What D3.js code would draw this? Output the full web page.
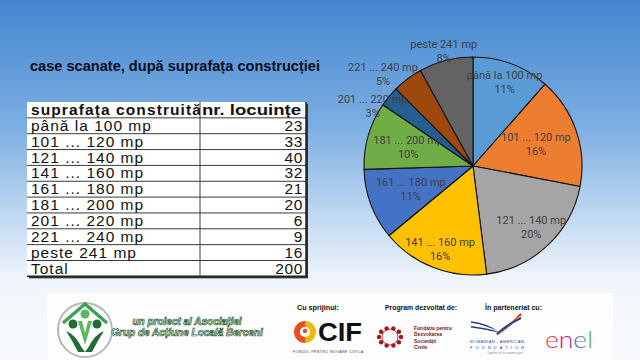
<!DOCTYPE html>
<html><head><meta charset="utf-8">
<script src="https://cdn.jsdelivr.net/npm/d3@7"></script>
<style>body{margin:0;overflow:hidden;background:#fff} svg{display:block}</style>
</head><body><svg id="c" width="640" height="360"></svg>
<script>
// ---------- data ----------
const title = "case scanate, după suprafața construcției";
const headers = ["suprafața construită", "nr. locuințe"];
const categories = ["până la 100 mp","101 ... 120 mp","121 ... 140 mp","141 ... 160 mp","161 ... 180 mp","181 ... 200 mp","201 ... 220 mp","221 ... 240 mp","peste 241 mp"];
const values = [23,33,40,32,21,20,6,9,16];
const percentLabels = ["11%","16%","20%","16%","11%","10%","3%","5%","8%"];
const totalLabel = "Total";
const totalValue = 200;
const colors = ["#5B9BD5","#ED7D31","#A5A5A5","#FFC000","#4472C4","#70AD47","#255E91","#9E480E","#636363"];

// ---------- layout ----------
const W = 640, H = 360;
const svg = d3.select("#c");
const defs = svg.append("defs");
const bg = defs.append("linearGradient").attr("id","bg").attr("x1",0).attr("y1",0).attr("x2",0).attr("y2",1);
bg.append("stop").attr("offset","0").attr("stop-color","#4386D0");
bg.append("stop").attr("offset","0.35").attr("stop-color","#7DAEE2");
bg.append("stop").attr("offset","0.78").attr("stop-color","#F1F6FC");
bg.append("stop").attr("offset","1").attr("stop-color","#F8FAFD");
svg.append("rect").attr("width",W).attr("height",H).attr("fill","url(#bg)");

// title
svg.append("text").attr("x",30).attr("y",71).text(title)
  .attr("font-family","Liberation Sans, Arial, sans-serif").attr("font-weight","bold")
  .attr("font-size",15.5).attr("fill","#0d0d1a")
  .attr("textLength",290).attr("lengthAdjust","spacingAndGlyphs");

// ---------- table ----------
const tx0 = 27, tx1 = 306, tcol = 200, ty0 = 102, rowH = 15.85;
const rows = categories.map((c,i)=>[c, values[i]]).concat([[totalLabel, totalValue]]);
const nRows = rows.length + 1;
const tb = svg.append("g");
tb.append("rect").attr("x",tx0+2).attr("y",ty0+2).attr("width",tx1-tx0).attr("height",nRows*rowH).attr("fill","#333");
tb.append("rect").attr("x",tx0).attr("y",ty0).attr("width",tx1-tx0).attr("height",nRows*rowH).attr("fill","#fff");
defs.append("clipPath").attr("id","col1").append("rect").attr("x",tx0).attr("y",ty0).attr("width",tcol-tx0).attr("height",rowH);
for (let i=1;i<nRows;i++){
  tb.append("line").attr("x1",tx0).attr("x2",tx1).attr("y1",ty0+i*rowH).attr("y2",ty0+i*rowH)
    .attr("stroke","#3a3a3a").attr("stroke-width",1);
}
tb.append("line").attr("x1",tcol).attr("x2",tcol).attr("y1",ty0).attr("y2",ty0+nRows*rowH).attr("stroke","#3a3a3a");
tb.append("line").attr("x1",tx1).attr("x2",tx1).attr("y1",ty0).attr("y2",ty0+nRows*rowH).attr("stroke","#222").attr("stroke-width",1.5);
tb.append("line").attr("x1",tx0).attr("x2",tx1).attr("y1",ty0+nRows*rowH).attr("y2",ty0+nRows*rowH).attr("stroke","#222").attr("stroke-width",1.5);
const tf = "Liberation Sans, Arial, sans-serif";
tb.append("text").attr("x",31).attr("y",ty0+13).text(headers[0]).attr("clip-path","url(#col1)")
  .attr("font-family",tf).attr("font-weight","bold").attr("font-size",15.5).attr("letter-spacing",1.1).attr("fill","#111");
tb.append("text").attr("x",202).attr("y",ty0+13).text(headers[1])
  .attr("font-family",tf).attr("font-weight","bold").attr("font-size",15.5).attr("fill","#111")
  .attr("textLength",99).attr("lengthAdjust","spacingAndGlyphs");
rows.forEach((r,i)=>{
  const y = ty0 + (i+1)*rowH + 13;
  tb.append("text").attr("x",31).attr("y",y).text(r[0]).attr("font-family",tf).attr("font-size",15.5)
    .attr("letter-spacing",1).attr("fill","#111");
  tb.append("text").attr("x",303).attr("y",y).text(r[1]).attr("text-anchor","end").attr("font-family",tf)
    .attr("font-size",15.5).attr("letter-spacing",0.6).attr("fill","#111");
});

// ---------- pie ----------
const cx = 473, cy = 166, R = 109;
const labelRadius = [0.82,0.61,0.78,0.82,0.61,0.62,1.07,1.18,1.08];
const labelAngleShift = [0,0,0,0,0,0,-9,-7.5,0];
const pie = d3.pie().sort(null).value(d=>d)(values);
const arc = d3.arc().innerRadius(0).outerRadius(R);
const color = d3.scaleOrdinal().domain(categories).range(colors);
const pg = svg.append("g").attr("transform",`translate(${cx},${cy})`);
pg.selectAll("path").data(pie).join("path").attr("d",arc)
  .attr("fill",(d,i)=>color(categories[i])).attr("stroke","#111").attr("stroke-width",1.1).attr("stroke-linejoin","round");
const lg = pg.selectAll("g.lbl").data(pie).join("g").attr("class","lbl")
  .attr("transform",(d,i)=>{
    const a = (d.startAngle+d.endAngle)/2 + labelAngleShift[i]*Math.PI/180;
    const r = R*labelRadius[i];
    return `translate(${r*Math.sin(a)},${-r*Math.cos(a)})`;
  });
lg.append("text").attr("y",-7).attr("dominant-baseline","central").attr("text-anchor","middle")
  .text((d,i)=>categories[i]).attr("font-family","Roboto, sans-serif").attr("font-size",11).attr("fill","#404040");
lg.append("text").attr("y",7).attr("dominant-baseline","central").attr("text-anchor","middle")
  .text((d,i)=>percentLabels[i]).attr("font-family","Roboto, sans-serif").attr("font-size",11).attr("fill","#404040");

// ---------- footer ----------
const ft = svg.append("g");
ft.append("rect").attr("x",47).attr("y",293).attr("width",566).attr("height",67).attr("fill","#fdfdfd");
// association logo
ft.append("circle").attr("cx",85).attr("cy",330).attr("r",27).attr("fill","#fff").attr("stroke","#b8b8b8").attr("stroke-width",2);
ft.append("path").attr("d","M63,323 L85,304 L107,323").attr("fill","none").attr("stroke","#3aa35a").attr("stroke-width",3.5);
ft.append("circle").attr("cx",73).attr("cy",324).attr("r",4.5).attr("fill","#1f6e35");
ft.append("circle").attr("cx",97).attr("cy",324).attr("r",4.5).attr("fill","#1f6e35");
ft.append("circle").attr("cx",85).attr("cy",314).attr("r",4.5).attr("fill","#5cb85c");
ft.append("path").attr("d","M66,331 Q75,334 82,348 L85,352 L78,352 Q72,340 66,331Z").attr("fill","#1f6e35");
ft.append("path").attr("d","M104,331 Q95,334 88,348 L85,352 L92,352 Q98,340 104,331Z").attr("fill","#1f6e35");
ft.append("path").attr("d","M78,321 L85,345 L92,321 L88,321 L85,333 L82,321Z").attr("fill","#5cb85c");
const ita = {"font-family":"Liberation Sans, Arial, sans-serif","font-style":"italic","font-weight":"bold","font-size":10,"fill":"#fff","stroke":"#1f5a2e","stroke-width":0.7};
[["un proiect al Asociației",325],["Grup de Acțiune Locală Berceni",336]].forEach(([t,y])=>{
  const e = ft.append("text").attr("x",187).attr("y",y).attr("text-anchor","middle").text(t);
  Object.entries(ita).forEach(([k,v])=>e.attr(k,v));
});
// headings
const hf = "Liberation Sans Narrow, Liberation Sans, Arial, sans-serif";
[["Cu sprijinul:",297,42],["Program dezvoltat de:",385,72],["În parteneriat cu:",485,57]].forEach(([t,x,w])=>{
  ft.append("text").attr("x",x).attr("y",310).text(t).attr("font-family",hf).attr("font-weight","bold")
    .attr("font-size",8).attr("fill","#111").attr("textLength",w).attr("lengthAdjust","spacingAndGlyphs");
});
// CIF logo
ft.append("path").attr("d",d3.arc().innerRadius(5).outerRadius(11).startAngle(-Math.PI/2).endAngle(Math.PI/2)()).attr("transform","translate(305,332) rotate(-90)").attr("fill","#e84e1b");
ft.append("path").attr("d",d3.arc().innerRadius(5).outerRadius(11).startAngle(Math.PI/2).endAngle(Math.PI*1.5)()).attr("transform","translate(305,332) rotate(-90)").attr("fill","#f7b515");
ft.append("circle").attr("cx",305).attr("cy",332).attr("r",5).attr("fill","#fff");
ft.append("circle").attr("cx",305).attr("cy",331).attr("r",2.2).attr("fill","#e84e1b");
ft.append("text").attr("x",318).attr("y",341).text("CIF").attr("font-family",tf).attr("font-weight","bold")
  .attr("font-size",26).attr("fill","#111").attr("textLength",44).attr("lengthAdjust","spacingAndGlyphs");
ft.append("text").attr("x",293).attr("y",353).text("FONDUL PENTRU INOVARE CIVICĂ").attr("font-family",tf)
  .attr("font-size",3.5).attr("fill","#444").attr("textLength",70).attr("lengthAdjust","spacing");
// FDSC logo
d3.range(10).forEach(k=>{
  const a = k/10*2*Math.PI;
  ft.append("circle").attr("cx",390+11*Math.cos(a)).attr("cy",337+9*Math.sin(a)).attr("r",2.2).attr("fill","#a8161d");
});
ft.append("circle").attr("cx",390).attr("cy",337).attr("r",8).attr("fill","none").attr("stroke","#a8161d").attr("stroke-width",0.8);
["Fundația pentru","Dezvoltarea","Societății","Civile"].forEach((t,i)=>{
  ft.append("text").attr("x",414).attr("y",330+i*6.3).text(t).attr("font-family",tf).attr("font-weight","bold")
    .attr("font-size",5).attr("fill","#7a1a1a");
});
// RAF logo
[0,1,2,3].forEach(k=>{
  ft.append("path").attr("d",`M${471},${322+k*2.4} Q${488},${324+k*2.4} ${499},${333}`).attr("fill","none")
    .attr("stroke",k%2?"#fff":"#2c3e8c").attr("stroke-width",1.6);
});
[["#c8102e",0],["#f7c600",2],["#2c3e8c",4]].forEach(([c,o])=>{
  ft.append("path").attr("d",`M${497},${334} Q${508},${328-o} ${521},${314+o}`).attr("fill","none").attr("stroke",c).attr("stroke-width",2);
});
ft.append("text").attr("x",497).attr("y",343).attr("text-anchor","middle").text("ROMANIAN - AMERICAN").attr("font-family",tf)
  .attr("font-size",4).attr("fill","#2c3e8c").attr("textLength",54).attr("lengthAdjust","spacing");
ft.append("text").attr("x",497).attr("y",348.5).attr("text-anchor","middle").text("FOUNDATION").attr("font-family",tf)
  .attr("font-size",4).attr("fill","#2c3e8c").attr("textLength",54).attr("lengthAdjust","spacing");
ft.append("text").attr("x",505).attr("y",353.5).attr("text-anchor","middle").text("Together for the common good").attr("font-family",tf)
  .attr("font-style","italic").attr("font-size",2.6).attr("fill","#888");
// enel
const eg = defs.append("linearGradient").attr("id","enel");
eg.append("stop").attr("offset","0").attr("stop-color","#f05a28");
eg.append("stop").attr("offset","0.35").attr("stop-color","#e4007c");
eg.append("stop").attr("offset","0.7").attr("stop-color","#5c6bc0");
eg.append("stop").attr("offset","1").attr("stop-color","#55b948");
ft.append("text").attr("x",545).attr("y",348).text("enel").attr("font-family","Lato, sans-serif").attr("font-weight",300)
  .attr("font-size",24).attr("fill","url(#enel)").attr("textLength",48).attr("lengthAdjust","spacingAndGlyphs");
</script></body></html>
